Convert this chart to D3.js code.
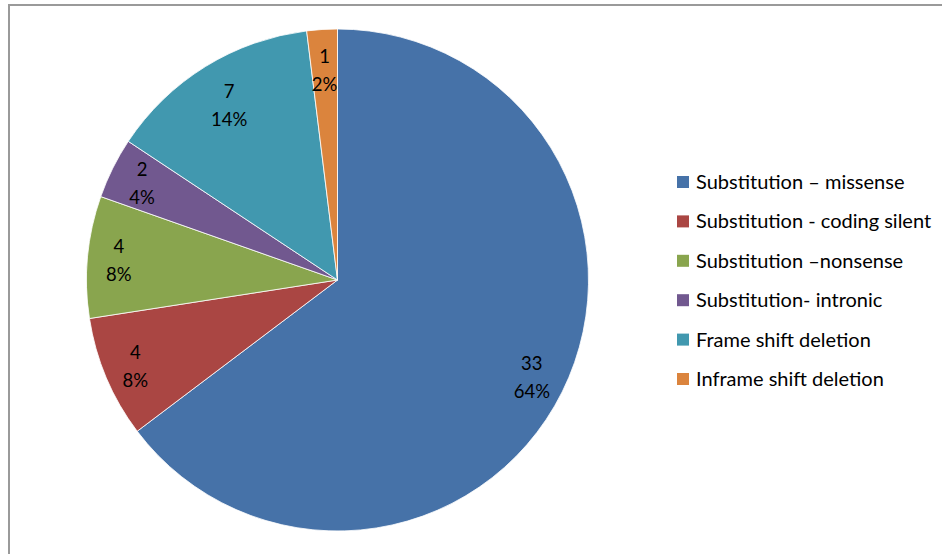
<!DOCTYPE html>
<html>
<head>
<meta charset="utf-8">
<script src="https://cdn.jsdelivr.net/npm/d3@7"></script>
<style>
  html, body { margin: 0; padding: 0; background: #fff; }
  svg { display: block; }
  text { font-family: Lato, "Open Sans", sans-serif; }
</style>
</head>
<body>
<svg id="chart" width="942" height="554"></svg>
<script>
const categories = [
  "Substitution \u2013 missense",
  "Substitution - coding silent",
  "Substitution \u2013nonsense",
  "Substitution- intronic",
  "Frame shift deletion",
  "Inframe shift deletion"
];
const counts = [33, 4, 4, 2, 7, 1];
const percentLabels = ["64%", "8%", "8%", "4%", "14%", "2%"];
const colors = ["#4672A8", "#AA4643", "#89A54E", "#71588F", "#4198AF", "#DB843D"];

const svg = d3.select("#chart");
const W = 942, H = 554;

// outer frame
svg.append("rect")
  .attr("x", 9).attr("y", 5)
  .attr("width", W + 10).attr("height", H + 10)
  .attr("fill", "#fff")
  .attr("stroke", "#9a9a9a").attr("stroke-width", 2);

const cx = 337.5, cy = 280, r = 251;
const data = categories.map((c, i) => ({ name: c, value: counts[i], pct: percentLabels[i], color: colors[i] }));

const pie = d3.pie().value(d => d.value).sort(null);
const arcs = pie(data);
const arc = d3.arc().innerRadius(0).outerRadius(r);

const g = svg.append("g").attr("transform", `translate(${cx},${cy})`);
g.selectAll("path.slice")
  .data(arcs)
  .enter().append("path")
  .attr("class", "slice")
  .attr("d", arc)
  .attr("fill", d => d.data.color)
  .attr("stroke", "#ffffff")
  .attr("stroke-width", 0.8)
  .attr("stroke-linejoin", "round");

// label placement (Excel best-fit approximation)
const labelFactor = [0.865, 0.875, 0.875, 0.87, 0.82, 0.837];
const labels = g.selectAll("g.lbl")
  .data(arcs)
  .enter().append("g")
  .attr("class", "lbl")
  .attr("transform", (d, i) => {
    const a = (d.startAngle + d.endAngle) / 2;
    const rr = r * labelFactor[i];
    return `translate(${Math.sin(a) * rr},${-Math.cos(a) * rr})`;
  });
labels.append("text")
  .attr("text-anchor", "middle")
  .attr("y", -7)
  .attr("font-size", 18.5)
  .attr("fill", "#000")
  .text(d => d.data.value);
labels.append("text")
  .attr("text-anchor", "middle")
  .attr("y", 21)
  .attr("font-size", 18.5)
  .attr("fill", "#000")
  .text(d => d.data.pct);

// legend
const legend = svg.append("g").attr("transform", "translate(677,176)");
const rowH = 39.4;
const items = legend.selectAll("g.item")
  .data(data)
  .enter().append("g")
  .attr("class", "item")
  .attr("transform", (d, i) => `translate(0,${i * rowH})`);
items.append("rect")
  .attr("x", 0).attr("y", 0)
  .attr("width", 12).attr("height", 12)
  .attr("fill", d => d.color);
items.append("text")
  .attr("x", 19).attr("y", 13)
  .attr("font-size", 20)
  .attr("fill", "#000")
  .text(d => d.name);
</script>
</body>
</html>
